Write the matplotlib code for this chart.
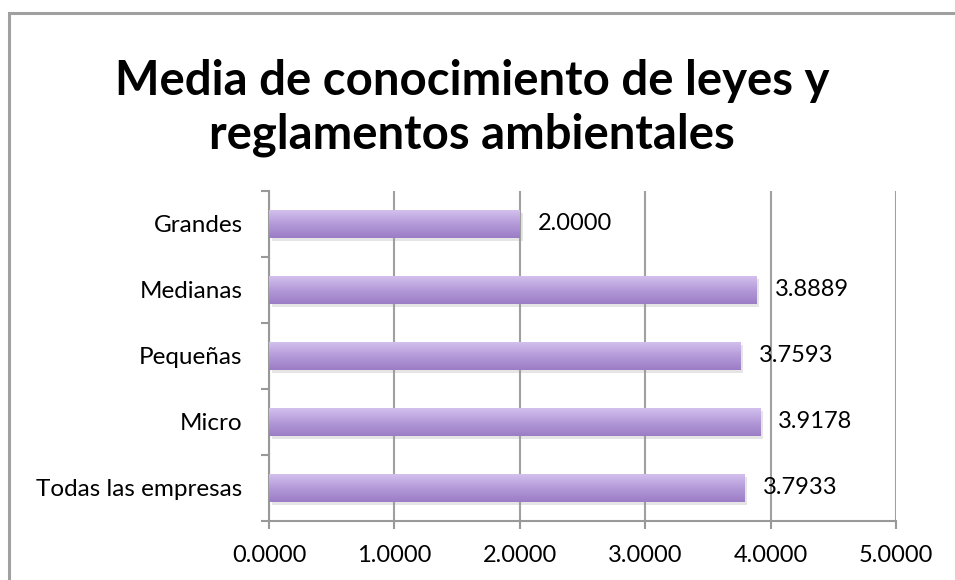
import matplotlib
matplotlib.use("Agg")
import matplotlib.pyplot as plt
import numpy as np
from matplotlib.patches import Rectangle
import matplotlib.patheffects as pe
from matplotlib.colors import LinearSegmentedColormap

categories = ["Todas las empresas", "Micro", "Pequeñas", "Medianas", "Grandes"]
values = [3.7933, 3.9178, 3.7593, 3.8889, 2.0000]
xticks = [0, 1, 2, 3, 4, 5]
title = "Media de conocimiento de leyes y\nreglamentos ambientales"

plt.rcParams['font.family'] = ['Lato', 'DejaVu Sans']

fig = plt.figure(figsize=(9.55, 5.8), dpi=100)
# outer chart border
fig.add_artist(Rectangle((9/955, -0.05), 1.0, (1 - 13/580) + 0.05, transform=fig.transFigure,
                         fill=False, edgecolor='#a0a0a0', linewidth=2.2))

ax = fig.add_axes([269/955, 1 - 521/580, (896 - 269)/955, (521 - 191)/580])

y = np.arange(len(categories))
bars = ax.barh(y, values, height=0.42, color='#b9a0dc', zorder=3,
               path_effects=[pe.SimplePatchShadow(offset=(2, -2), shadow_rgbFace='#999999', alpha=0.25),
                             pe.Normal()])

cmap = LinearSegmentedColormap.from_list('grad', ['#9a7cc5', '#b49ad9', '#d3c0ee'])
grad = np.linspace(0, 1, 256).reshape(-1, 1)
for b in bars:
    x0, y0 = b.get_x(), b.get_y()
    w, h = b.get_width(), b.get_height()
    im = ax.imshow(grad, extent=[x0, x0 + w, y0, y0 + h], origin='lower', cmap=cmap,
                   aspect='auto', zorder=4)
    im.set_clip_path(b)

for yi, v in zip(y, values):
    ax.annotate(f"{v:.4f}", xy=(v, yi), xytext=(13, 0), textcoords='offset points',
                va='center', ha='left', fontsize=17, color='black', zorder=5)

ax.set_xlim(0, 5)
ax.set_ylim(-0.5, len(categories) - 0.5)
ax.set_xticks(xticks)
ax.set_xticklabels([f"{t:.4f}" for t in xticks], fontsize=17)
ax.set_yticks(y)
ax.set_yticklabels(categories, fontsize=17.5)
ax.tick_params(axis='y', length=0, pad=19)
ax.set_yticks(np.arange(-0.5, len(categories), 1), minor=True)
ax.tick_params(axis='y', which='minor', length=6, width=1.5, color='#999999', direction='out')
ax.tick_params(axis='x', length=6, width=1.5, color='#999999', direction='out', pad=11)

ax.grid(axis='x', color='#a0a0a0', linewidth=1.5, zorder=1)
ax.set_axisbelow(True)
for s in ['top', 'right']:
    ax.spines[s].set_visible(False)
for s in ['left', 'bottom']:
    ax.spines[s].set_color('#999999')
    ax.spines[s].set_linewidth(1.5)
    ax.spines[s].set_zorder(2)

fig.text(0.494, 1 - 108/580, title, ha='center', va='center', fontsize=34, fontweight='bold',
         linespacing=1.25)

fig.savefig("out.png", dpi=100)
